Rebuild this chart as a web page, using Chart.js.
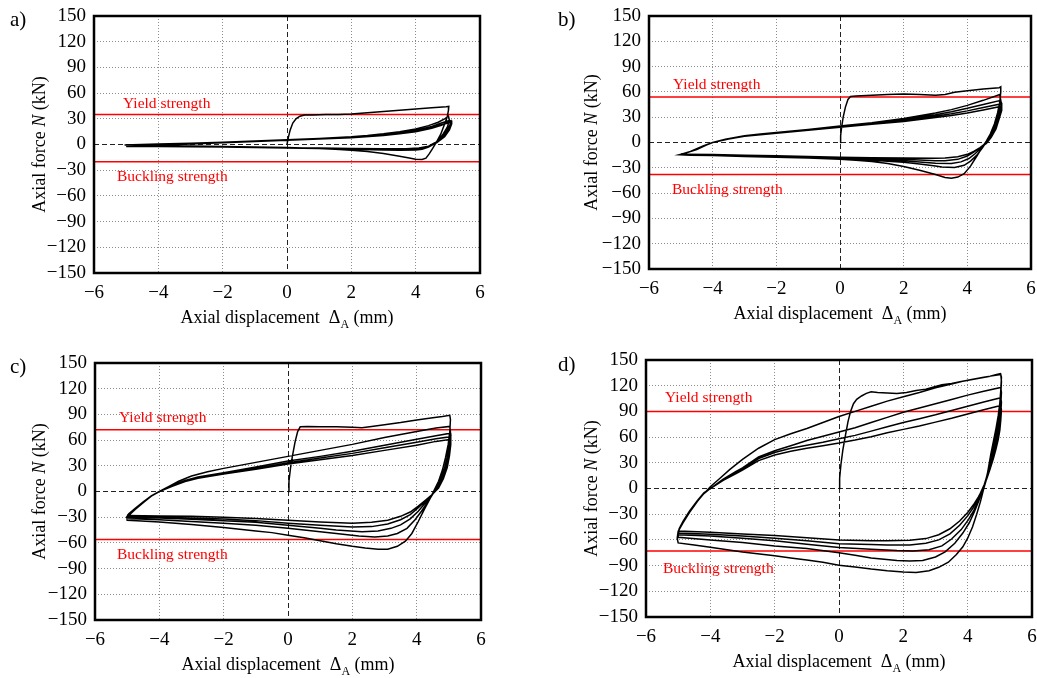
<!DOCTYPE html>
<html>
<head>
<meta charset="utf-8">
<script src="https://cdn.jsdelivr.net/npm/chart.js@4.4.1/dist/chart.umd.min.js"></script>
<style>
  body { margin: 0; background: #fff; width: 1037px; height: 678px; position: relative; overflow: hidden; }
  canvas { position: absolute; }
</style>
</head>
<body>
<canvas id="pa" width="518" height="339" style="left:0;top:0"></canvas>
<canvas id="pb" width="519" height="339" style="left:518px;top:0"></canvas>
<canvas id="pc" width="518" height="339" style="left:0;top:339px"></canvas>
<canvas id="pd" width="519" height="339" style="left:518px;top:339px"></canvas>
<script>
// axis ranges / labels
const xMin = -6, xMax = 6, xStep = 2;
const yMin = -150, yMax = 150, yStep = 30;
const panelLetters = ['a)', 'b)', 'c)', 'd)'];
const yieldKN = [35, 54, 72, 90];
const bucklingKN = [-20, -38, -56, -73];

// hysteresis paths [displacement mm, force kN], branches in loading order
const pathA = [
  [[0,0],[0.04,8],[0.1,17],[0.18,25],[0.28,30],[0.4,33],[0.55,34.5],[0.8,34.5],[1.2,35],[1.6,35],[2,35.5],[2.5,37],[3,38.5],[3.5,40],[4,41.5],[4.5,43],[4.95,44],[5.03,44.5]],
  [[5.02,40],[4.98,32],[4.9,24],[4.78,12],[4.65,3],[4.52,-5],[4.42,-11],[4.32,-16],[4.2,-17.5],[4.0,-17.2],[3.8,-15.8],[3.5,-13.8],[3,-10.5],[2.5,-8.2],[2,-6.6],[1.5,-5.5],[1,-4.6],[0.5,-4],[0,-3.6],[-1,-3],[-2,-2.4],[-3,-1.8],[-4,-1.2],[-4.7,-0.8],[-5.05,-0.6]],
  [[-4.8,-0.2],[-4,0.6],[-3,1.5],[-2,2.6],[-1,4],[0,5.5],[1,7],[2,9],[2.5,10.5],[3,12.5],[3.5,15],[4,18],[4.4,22],[4.7,26],[4.9,30],[5.02,33]],
  [[5.05,28],[4.98,20],[4.85,12],[4.7,5],[4.55,0],[4.4,-3],[4.2,-5.5],[4,-6.5],[3.5,-6.8],[3,-6.3],[2,-5.6],[1,-4.8],[0,-4.2],[-1,-3.6],[-2,-3],[-3,-2.5],[-4,-2.2],[-5,-2]],
  [[-4.5,-1.2],[-4,-0.5],[-3,0.8],[-2,2.2],[-1,3.7],[0,5.2],[1,6.8],[2,8.6],[3,11.5],[3.5,13.5],[4,16.5],[4.5,21],[4.8,25],[5.05,28]],
  [[5.08,24],[5,18],[4.85,10],[4.65,3],[4.45,-1.5],[4.2,-4.5],[3.9,-5.5],[3.5,-5.8],[3,-5.5],[2,-5],[1,-4.5],[0,-4],[-1,-3.5],[-2,-3],[-3,-2.6],[-4,-2.3],[-5,-2.1]],
  [[-4.5,-1.4],[-4,-0.7],[-3,0.6],[-2,2],[-1,3.5],[0,5],[1,6.6],[2,8.3],[3,11],[3.5,13],[4,15.5],[4.5,19.5],[4.8,23],[5.1,26]],
  [[5.1,22],[5.02,16],[4.85,8],[4.6,2],[4.4,-2],[4.1,-4.5],[3.7,-5.3],[3,-5.2],[2,-4.8],[1,-4.3],[0,-3.9],[-1,-3.4],[-2,-3],[-3,-2.6],[-4,-2.3],[-5,-2.2]],
  [[-4.5,-1.5],[-4,-0.8],[-3,0.5],[-2,1.9],[-1,3.4],[0,4.9],[1,6.4],[2,8],[3,10.5],[3.5,12.5],[4,15],[4.5,19],[4.8,22.5],[5.1,28]],
  [[5.12,24],[5.05,17],[4.9,9],[4.65,2],[4.4,-2],[4.1,-4.2],[3.7,-5],[3,-5],[2,-4.6],[1,-4.2],[0,-3.8],[-1,-3.3],[-2,-2.9],[-3,-2.6],[-4,-2.3],[-5,-2.2]]
];

const pathB = [
  [[0,0],[0.02,8],[0.05,18],[0.1,30],[0.17,42],[0.25,51],[0.33,54.5],[0.5,55],[1,56],[1.5,57],[2,57.5],[2.5,57],[3,56],[3.3,57],[3.6,59.5],[4,61.5],[4.5,63.5],[5,65],[5.05,66]],
  [[5.05,60],[5.02,48],[4.95,35],[4.85,22],[4.72,10],[4.6,2],[4.48,-5],[4.3,-16],[4.1,-28],[3.9,-37],[3.7,-41],[3.5,-42.5],[3.3,-41.5],[3,-38],[2.5,-33],[2,-28.5],[1.5,-25],[1,-22.5],[0.5,-21],[0,-20],[-1,-18.5],[-2,-17.5],[-3,-16.5],[-4,-15.5],[-4.7,-15],[-5.05,-14.5]],
  [[-4.8,-12],[-4.5,-8.5],[-4.2,-3],[-4,0],[-3.6,4],[-3,8],[-2.5,10.2],[-2,12],[-1,15.5],[0,19.5],[1,23.5],[2,28.5],[3,35],[3.5,39],[4,44],[4.5,50],[5.02,57]],
  [[5.05,50],[5,38],[4.9,25],[4.78,12],[4.62,2],[4.48,-6],[4.3,-15],[4.1,-22],[3.9,-27],[3.6,-29.5],[3.2,-29],[3,-28],[2.5,-25.5],[2,-23.5],[1,-21],[0,-19.5],[-1,-18],[-2,-17],[-3,-16],[-4,-15],[-5,-14.3]],
  [[-4.7,-10.5],[-4.3,-4],[-4,0],[-3.5,4.5],[-3,7.8],[-2,11.5],[-1,15],[0,19],[1,22.8],[2,27.5],[3,33],[3.5,36.5],[4,40.5],[4.5,45],[5.05,50]],
  [[5.08,45],[5.02,34],[4.92,22],[4.78,10],[4.62,1],[4.45,-6],[4.25,-13],[4.05,-19],[3.8,-23],[3.5,-25],[3,-24.5],[2.5,-23],[2,-21.5],[1,-20],[0,-19],[-1,-17.5],[-2,-16.5],[-3,-15.5],[-4,-14.8],[-5,-14.2]],
  [[-4.7,-10.5],[-4.3,-4],[-4,0],[-3.5,4.3],[-3,7.5],[-2,11.2],[-1,14.7],[0,18.5],[1,22],[2,26],[3,31],[3.5,34],[4,37.5],[4.5,41.5],[5.08,46]],
  [[5.08,40],[5,30],[4.9,18],[4.75,8],[4.6,0],[4.4,-6],[4.2,-11.5],[4,-16],[3.7,-20],[3.3,-21.5],[3,-21.5],[2,-20],[1,-19],[0,-18.3],[-1,-17],[-2,-16],[-3,-15.2],[-4,-14.5],[-5,-14]],
  [[-4.7,-10.5],[-4.3,-4],[-4,0],[-3.5,4.2],[-3,7.3],[-2,11],[-1,14.4],[0,18],[1,21.5],[2,25],[3,29.5],[3.5,32],[4,35],[4.5,38.5],[5.08,43]],
  [[5.08,38],[5,28],[4.9,16],[4.75,6],[4.6,-1],[4.4,-6],[4.2,-10.5],[4,-14],[3.7,-17],[3.3,-18.5],[3,-18.7],[2,-18.5],[1,-18],[0,-17.5],[-1,-16.5],[-2,-15.8],[-3,-15],[-4,-14.3],[-5,-13.8]]
];

const pathC = [
  [[0,0],[0.03,12],[0.08,28],[0.14,42],[0.22,58],[0.3,70],[0.38,75.5],[0.6,76],[1,75.5],[1.5,75.5],[2,75],[2.3,74.5],[2.6,76],[3,78],[3.5,80.5],[4,83.5],[4.5,86],[4.8,87.5],[5.03,89]],
  [[5.05,84],[5.03,70],[4.98,55],[4.9,40],[4.8,25],[4.68,12],[4.55,2],[4.42,-8],[4.25,-20],[4.05,-35],[3.85,-49],[3.65,-58],[3.4,-64],[3.1,-67.5],[2.8,-67.5],[2.4,-66],[2,-64],[1.5,-61],[1,-57.5],[0.5,-54],[0,-51],[-0.5,-48],[-1,-46],[-2,-42],[-3,-38.5],[-4,-35.5],[-4.7,-34],[-5,-33.5]],
  [[-5.02,-30],[-4.95,-27],[-4.75,-20],[-4.5,-12],[-4.25,-5],[-4,0],[-3.7,6],[-3.4,12],[-3,18],[-2.5,23],[-2,27],[-1,34],[0,41],[1,48],[2,55],[3,63],[4,70],[4.6,74],[5.03,76]],
  [[5.05,70],[5.02,55],[4.95,40],[4.85,25],[4.72,12],[4.55,0],[4.35,-12],[4.15,-23],[3.95,-33],[3.7,-43],[3.4,-49],[3.1,-52],[2.7,-53],[2.2,-52],[1.5,-49],[1,-47],[0,-43],[-1,-39.5],[-2,-37],[-3,-35],[-4,-33],[-5,-31.5]],
  [[-4.95,-28],[-4.75,-21],[-4.5,-13],[-4.25,-5.5],[-4,0],[-3.6,7],[-3.2,13],[-2.8,17],[-2,22],[-1,28.5],[0,35.5],[1,41],[2,47],[3,54],[4,61],[4.6,65],[5.05,68]],
  [[5.06,62],[5.03,48],[4.95,33],[4.83,18],[4.68,6],[4.5,-3],[4.3,-12],[4.05,-23],[3.8,-32],[3.5,-39],[3.2,-43],[2.8,-46],[2.3,-47],[1.5,-45],[1,-43],[0,-39.5],[-1,-36],[-2,-34],[-3,-32.5],[-4,-31],[-5,-30]],
  [[-4.95,-27],[-4.75,-20.5],[-4.5,-12.5],[-4.25,-5],[-4,0],[-3.6,6.5],[-3.2,12],[-2.8,16],[-2,21],[-1,27],[0,33.5],[1,39],[2,44.5],[3,51],[4,57.5],[4.6,61.5],[5.06,64]],
  [[5.06,58],[5.02,44],[4.95,30],[4.83,16],[4.68,5],[4.5,-3],[4.28,-11],[4.05,-19],[3.8,-27],[3.5,-33],[3.1,-38],[2.6,-41],[2,-41.5],[1,-39.5],[0,-37],[-1,-34],[-2,-32],[-3,-31],[-4,-30],[-5,-29]],
  [[-4.95,-26],[-4.75,-19.5],[-4.5,-12],[-4.25,-5],[-4,0],[-3.6,6],[-3.2,11.5],[-2.8,15.5],[-2,20.5],[-1,26],[0,32],[1,37],[2,42],[3,48],[4,54],[4.6,58.5],[5.06,61]],
  [[5.06,55],[5.02,42],[4.95,28],[4.83,15],[4.68,4],[4.5,-3],[4.28,-10],[4.05,-17],[3.8,-24],[3.5,-29],[3.1,-33.5],[2.6,-36],[2,-37],[1,-35.5],[0,-33.5],[-1,-31.5],[-2,-30],[-3,-29],[-4,-28.5],[-5,-28]]
];

const pathD = [
  [[0,0],[0.02,12],[0.06,28],[0.12,45],[0.2,62],[0.28,78],[0.36,90],[0.45,99],[0.55,104],[0.7,108],[0.85,111],[1,113],[1.2,112],[1.5,111.5],[1.8,111],[2.1,112],[2.4,114.5],[2.7,116],[3,119],[3.2,121],[3.5,122.5],[3.8,125],[4.1,127],[4.4,129],[4.7,131],[4.9,133],[5.02,134]],
  [[5.05,130],[5.03,115],[5,100],[4.95,85],[4.88,70],[4.8,55],[4.72,40],[4.65,25],[4.58,10],[4.5,0],[4.4,-15],[4.28,-30],[4.15,-45],[4,-58],[3.85,-68],[3.65,-77],[3.4,-86],[3.1,-92],[2.8,-96],[2.4,-98],[2,-97.5],[1.5,-96],[1,-94],[0.5,-91.5],[0,-89.5],[-0.5,-86],[-1,-83.5],[-1.5,-81],[-2,-78.5],[-3,-74],[-4,-68.5],[-4.5,-66],[-5,-63.5]],
  [[-5.03,-58],[-5,-50],[-4.85,-40],[-4.65,-28],[-4.4,-15],[-4.2,-6],[-4,2],[-3.7,12],[-3.4,22],[-3,34],[-2.5,47],[-2,57],[-1.5,64],[-1,70],[-0.5,77],[0,84],[0.5,90],[1,96],[1.5,102],[2,107],[2.5,112],[3,117.5],[3.5,122],[4,126.5],[4.5,130],[5.03,133]],
  [[5.05,125],[5.03,110],[5,95],[4.95,80],[4.88,65],[4.8,50],[4.72,35],[4.63,20],[4.55,8],[4.47,0],[4.35,-14],[4.2,-28],[4.05,-40],[3.85,-52],[3.6,-64],[3.3,-74],[3,-80],[2.6,-84],[2.2,-84.5],[1.8,-84],[1,-81],[0.5,-78],[0,-75],[-1,-70],[-2,-67],[-3,-63],[-4,-60],[-5,-57]],
  [[-5,-50],[-4.85,-40],[-4.65,-28],[-4.4,-15],[-4.2,-6],[-4,0],[-3.6,11],[-3.2,20],[-3,24],[-2.5,37],[-2,44],[-1.5,50],[-1,56],[-0.5,61],[0,66],[0.5,71],[1,77],[1.5,83],[2,89],[2.5,94],[3,99],[3.5,104],[4,109],[4.5,113.5],[5.03,118]],
  [[5.05,112],[5.03,98],[5,85],[4.95,72],[4.88,58],[4.8,45],[4.72,32],[4.63,18],[4.55,7],[4.47,-1],[4.35,-13],[4.2,-25],[4.03,-36],[3.8,-48],[3.5,-59],[3.2,-67],[2.8,-71.5],[2.3,-73],[1.8,-72.5],[1,-71],[0,-69],[-1,-65],[-2,-61],[-3,-58],[-4,-55.5],[-5,-54]],
  [[-4.97,-48],[-4.85,-39],[-4.65,-27],[-4.4,-14.5],[-4.2,-5.5],[-4,0],[-3.6,10],[-3.2,18.5],[-3,22.5],[-2.5,35],[-2,42],[-1.5,47],[-1,50.5],[-0.5,54],[0,58],[0.5,62],[1,67],[1.5,72],[2,77],[2.5,81.5],[3,86],[3.5,91],[4,96],[4.5,101],[5.03,106]],
  [[5.05,101],[5.03,88],[5,76],[4.95,64],[4.88,52],[4.8,40],[4.7,27],[4.6,15],[4.52,5],[4.45,-1],[4.33,-11],[4.18,-22],[4,-32],[3.75,-43],[3.45,-53],[3.1,-60],[2.7,-64],[2.2,-66],[1.5,-66],[1,-65.5],[0,-64.5],[-1,-61],[-2,-58],[-3,-55.5],[-4,-53.5],[-5,-52]],
  [[-4.97,-47],[-4.85,-38.5],[-4.65,-26.5],[-4.4,-14],[-4.2,-5],[-4,0],[-3.6,9.5],[-3.2,17.5],[-3,21.5],[-2.5,32.5],[-2,39],[-1.5,43.5],[-1,47],[-0.5,50],[0,53],[0.5,56.5],[1,60.5],[1.5,65],[2,69],[2.5,73],[3,77.5],[3.5,82],[4,87],[4.5,92],[5.03,97]],
  [[5.05,92],[5.03,80],[5,68],[4.95,57],[4.88,46],[4.8,35],[4.7,23],[4.6,12],[4.52,4],[4.45,-2],[4.33,-10],[4.18,-19],[4,-28],[3.75,-38],[3.45,-47],[3.1,-54],[2.7,-58.5],[2.2,-60.5],[1.5,-61],[1,-61],[0,-60],[-1,-57.5],[-2,-55],[-3,-53],[-4,-51],[-5,-49.5]]
];

const paths = [pathA, pathB, pathC, pathD];

const FONT = '"Liberation Serif", "Times New Roman", serif';

// plot-area placement inside each canvas and label offsets (pixels)
const layouts = [
  { id: 'pa', area: [94, 16, 480, 273], letter: [10, 26], yTitleX: 40, yLab: [29, -7], bLab: [23, 19] },
  { id: 'pb', area: [131, 16, 513, 269], letter: [40, 26], yTitleX: 74, yLab: [24, -8], bLab: [23, 19] },
  { id: 'pc', area: [95, 24, 481, 281], letter: [10, 34], yTitleX: 40, yLab: [24, -8], bLab: [22, 20] },
  { id: 'pd', area: [128, 21, 514, 278], letter: [40, 32], yTitleX: 74, yLab: [19, -9], bLab: [17, 22] }
];

function toPoints(branches) {
  const pts = [];
  branches.forEach(b => b.forEach(([x, y]) => pts.push({ x: x, y: y })));
  return pts;
}

function minus(v) {
  return String(v).replace('-', '\u2212');
}

const decor = {
  id: 'decor',
  beforeDatasetsDraw(chart, args, o) {
    const { ctx, chartArea: a } = chart;
    const y = chart.scales.y;
    ctx.save();
    ctx.strokeStyle = '#ff0000';
    ctx.lineWidth = 1.5;
    [o.yieldV, o.buckV].forEach(v => {
      const py = y.getPixelForValue(v);
      ctx.beginPath();
      ctx.moveTo(a.left, py);
      ctx.lineTo(a.right, py);
      ctx.stroke();
    });
    ctx.fillStyle = '#ff0000';
    ctx.font = '15.5px ' + FONT;
    ctx.textBaseline = 'alphabetic';
    ctx.textAlign = 'left';
    ctx.fillText('Yield strength', a.left + o.yLab[0], y.getPixelForValue(o.yieldV) + o.yLab[1]);
    ctx.fillText('Buckling strength', a.left + o.bLab[0], y.getPixelForValue(o.buckV) + o.bLab[1]);
    ctx.restore();
  },
  afterDraw(chart, args, o) {
    const { ctx, chartArea: a } = chart;
    ctx.save();
    // frame
    ctx.strokeStyle = '#000';
    ctx.lineWidth = 2.5;
    ctx.strokeRect(a.left, a.top, a.right - a.left, a.bottom - a.top);

    ctx.fillStyle = '#000';
    ctx.textBaseline = 'alphabetic';
    ctx.textAlign = 'left';

    // panel letter
    ctx.font = '21px ' + FONT;
    ctx.fillText(o.letter, o.letterPos[0], o.letterPos[1]);

    // x title with subscript
    const xParts = [
      ['Axial displacement  \u0394', '18px ' + FONT, 0],
      ['A', '12px ' + FONT, 5],
      [' (mm)', '18px ' + FONT, 0]
    ];
    let tw = 0;
    xParts.forEach(p => { ctx.font = p[1]; tw += ctx.measureText(p[0]).width; });
    let tx = (a.left + a.right) / 2 - tw / 2;
    const ty = a.bottom + 50;
    xParts.forEach(p => {
      ctx.font = p[1];
      ctx.fillText(p[0], tx, ty + p[2]);
      tx += ctx.measureText(p[0]).width;
    });

    // y title, rotated
    const yParts = [
      ['Axial force ', '18px ' + FONT],
      ['N', 'italic 18px ' + FONT],
      [' (kN)', '18px ' + FONT]
    ];
    let yw = 0;
    yParts.forEach(p => { ctx.font = p[1]; yw += ctx.measureText(p[0]).width; });
    ctx.translate(o.yTitleX, (a.top + a.bottom) / 2);
    ctx.rotate(-Math.PI / 2);
    ctx.textBaseline = 'middle';
    let sx = -yw / 2;
    yParts.forEach(p => {
      ctx.font = p[1];
      ctx.fillText(p[0], sx, 0);
      sx += ctx.measureText(p[0]).width;
    });
    ctx.restore();
  }
};

layouts.forEach((L, i) => {
  const canvas = document.getElementById(L.id);
  const W = canvas.width, H = canvas.height;
  const [left, top, right, bottom] = L.area;

  new Chart(canvas.getContext('2d'), {
    type: 'scatter',
    data: {
      datasets: [{
        data: toPoints(paths[i]),
        showLine: true,
        borderColor: '#000',
        borderWidth: 1.5,
        pointRadius: 0,
        fill: false,
        tension: 0
      }]
    },
    options: {
      responsive: false,
      animation: false,
      devicePixelRatio: 1,
      layout: { padding: { top: top, right: W - right, left: 0, bottom: 0 } },
      plugins: {
        legend: { display: false },
        tooltip: { enabled: false },
        decor: {
          letter: panelLetters[i], letterPos: L.letter, yTitleX: L.yTitleX,
          yieldV: yieldKN[i], buckV: bucklingKN[i], yLab: L.yLab, bLab: L.bLab
        }
      },
      scales: {
        x: {
          type: 'linear', min: xMin, max: xMax,
          afterFit: s => { s.height = H - bottom; s.paddingLeft = 0; s.paddingRight = 0; },
          ticks: {
            stepSize: xStep, autoSkip: false, maxRotation: 0, padding: 9,
            color: '#000', font: { family: FONT, size: 19 }, callback: minus
          },
          grid: {
            drawTicks: false, lineWidth: 1,
            color: c => (c.tick && c.tick.value === 0) ? '#222' : '#8c8c8c'
          },
          border: { display: false, dash: c => (c.tick && c.tick.value === 0) ? [5, 3] : [1, 2] }
        },
        y: {
          type: 'linear', min: yMin, max: yMax,
          afterFit: s => { s.width = left; s.paddingTop = 0; s.paddingBottom = 0; },
          ticks: {
            stepSize: yStep, autoSkip: false, padding: 8,
            color: '#000', font: { family: FONT, size: 19 }, callback: minus
          },
          grid: {
            drawTicks: false, lineWidth: 1,
            color: c => (c.tick && c.tick.value === 0) ? '#222' : '#8c8c8c'
          },
          border: { display: false, dash: c => (c.tick && c.tick.value === 0) ? [5, 3] : [1, 2] }
        }
      }
    },
    plugins: [decor]
  });
});
</script>
</body>
</html>
